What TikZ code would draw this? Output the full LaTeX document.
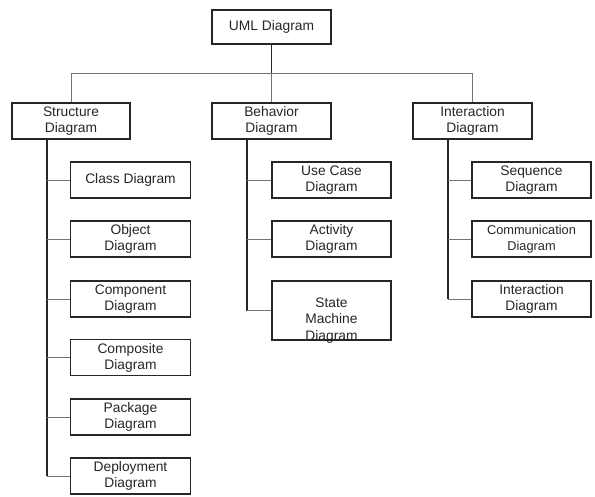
\documentclass[tikz,border=0pt]{standalone}
\usepackage{fontspec}
\setmainfont{Liberation Sans}
\begin{document}
\begin{tikzpicture}[x=1pt,y=-1pt,
  box/.style={draw=black!85, line width=1.5pt, minimum width=119pt, minimum height=36pt,
    inner sep=0pt, align=center, font=\fontsize{13.8}{16}\selectfont, text=black!85},
  trunk/.style={draw=black!85, line width=1.5pt},
  branch/.style={draw=black!55, line width=1pt},
  plain/.style={inner sep=0pt, align=center, font=\fontsize{13.8}{16.5}\selectfont, text=black!85}]
\useasboundingbox (0,0) rectangle (595,496);
% top
\node[box, minimum height=34pt] (uml) at (271.5,27) {UML Diagram};
\node[box, minimum width=118pt] (str) at (71,121) {Structure\\Diagram};
\node[box] (beh) at (271.5,121) {Behavior\\Diagram};
\node[box] (int) at (472.5,121) {Interaction\\Diagram};
% structure children
\node[box, minimum width=120pt] (scla) at (130.5,180) {Class Diagram};
\node[box, minimum width=120pt] (sobj) at (130.5,239) {Object\\Diagram};
\node[box, minimum width=120pt] (scom) at (130.5,299) {Component\\Diagram};
\node[box, minimum width=120pt] (scps) at (130.5,357.5) {Composite\\Diagram};
\node[box, minimum width=120pt] (spkg) at (130.5,417) {Package\\Diagram};
\node[box, minimum width=120pt] (sdep) at (130.5,476) {Deployment\\Diagram};
% behavior children
\node[box] (buse) at (331.5,180) {Use Case\\Diagram};
\node[box] (bact) at (331.5,239) {Activity\\Diagram};
\node[box, minimum height=59pt] (bsm) at (331.5,310.5) {};
\node[plain] (bsmt) at (331.5,320.5) {State\\Machine\\Diagram};
% interaction children
\node[box] (iseq) at (531.5,180) {Sequence\\Diagram};
\node[box, font=\fontsize{12.8}{16}\selectfont] (icom) at (531.5,239) {Communication\\Diagram};
\node[box] (iint) at (531.5,299) {Interaction\\Diagram};
% top connectors
\coordinate (bus) at (271.5,73);
\draw[trunk] (uml.south) -- (bus);
\draw[branch] (bus) -- (beh.north);
\draw[branch] (str.north) |- (int.north |- bus) -- (int.north);
% trunks
\coordinate (st) at (47,139);
\coordinate (bt) at (247,139);
\coordinate (it) at (448,139);
\draw[trunk] (st) -- (st |- sdep.west);
\draw[trunk] (bt) -- (bt |- bsm.west);
\draw[trunk] (it) -- (it |- iint.west);
% branches
\foreach \n in {scla,sobj,scom,scps,spkg,sdep}
  \draw[branch] (st |- \n.west) -- (\n.west);
\foreach \n in {buse,bact,bsm}
  \draw[branch] (bt |- \n.west) -- (\n.west);
\foreach \n in {iseq,icom,iint}
  \draw[branch] (it |- \n.west) -- (\n.west);
\end{tikzpicture}
\end{document}
